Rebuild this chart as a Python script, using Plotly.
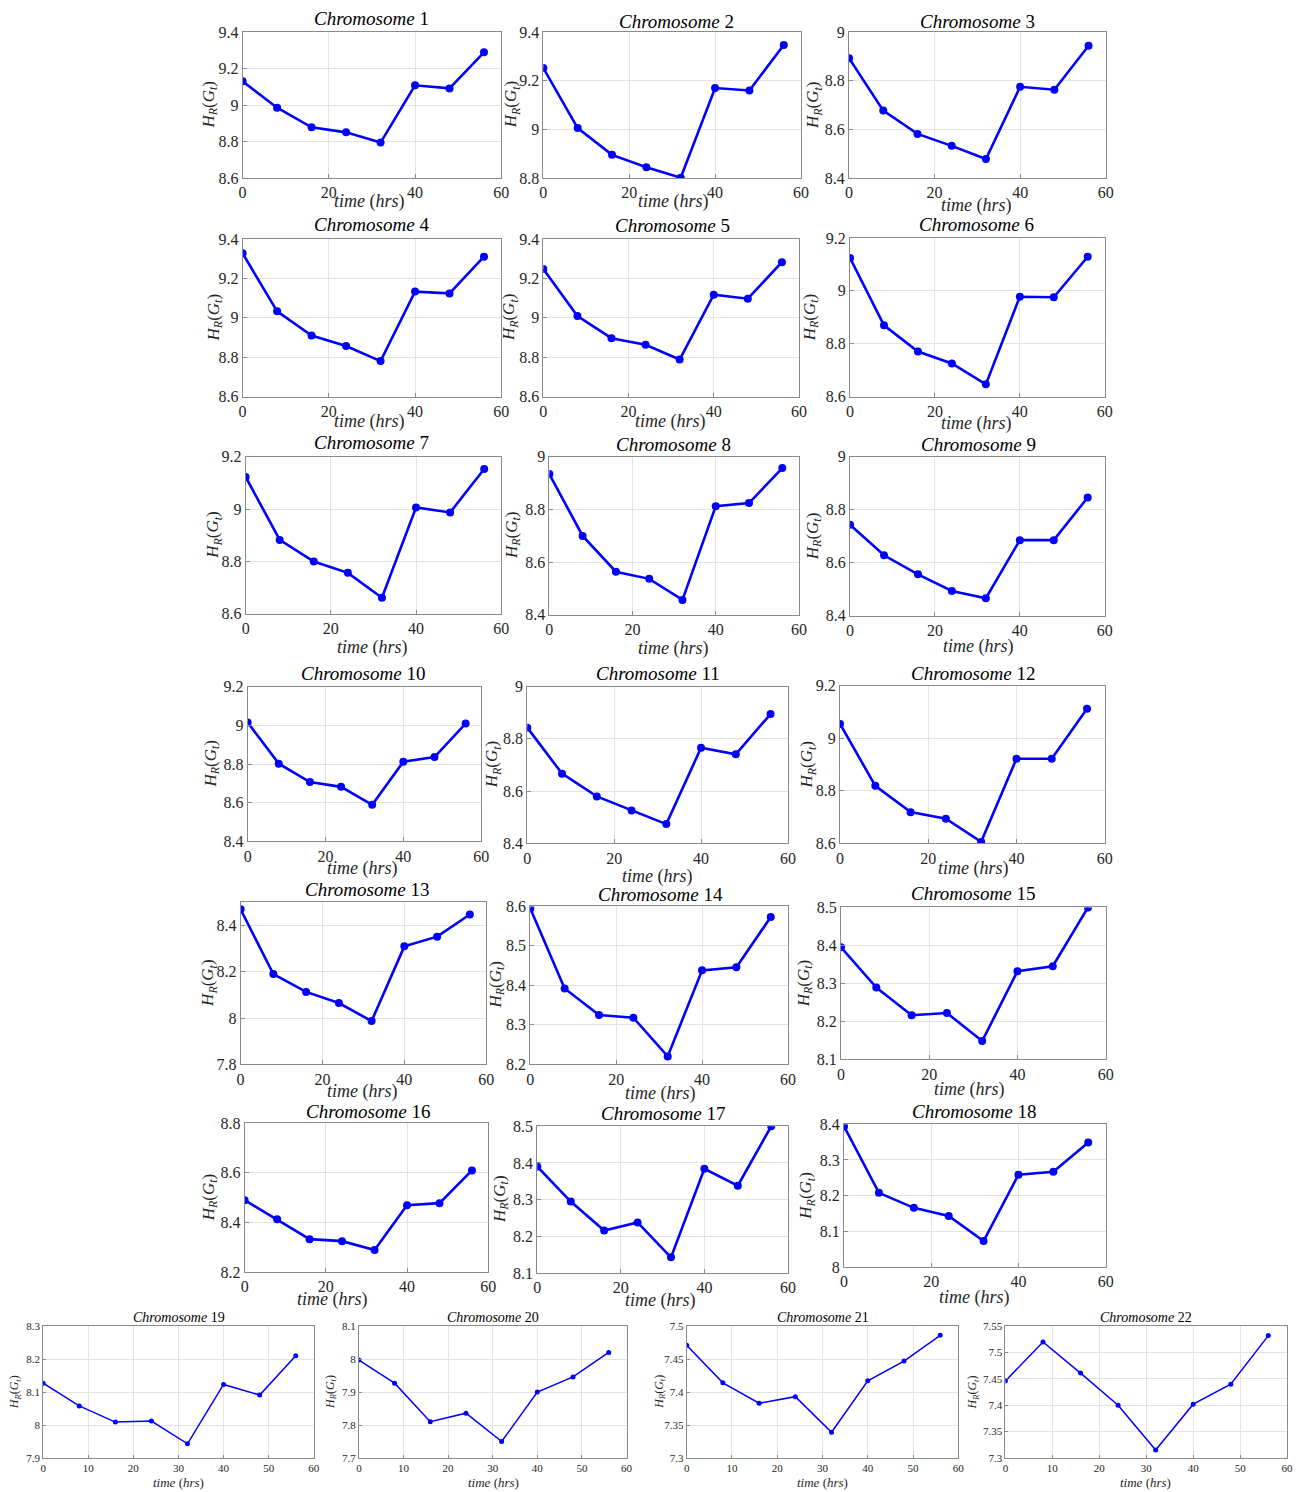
import plotly.graph_objects as go

# Figure size in CSS pixels and the mapping from layout pixels to figure pixels
W, H = 1311, 1500
SCALE_X, SCALE_Y = 0.9885, 0.9894
SHIFT_X, SHIFT_Y = 5, 8

# Sampling times (hours)
hours = [0, 8, 16, 24, 32, 40, 48, 56]

# Entropy H_R(G_t) per chromosome
chr1 = [9.130, 8.985, 8.878, 8.850, 8.794, 9.108, 9.091, 9.289]
chr2 = [9.252, 9.005, 8.895, 8.844, 8.801, 9.170, 9.160, 9.347]
chr3 = [8.892, 8.677, 8.581, 8.532, 8.478, 8.775, 8.763, 8.944]
chr4 = [9.327, 9.033, 8.910, 8.857, 8.781, 9.133, 9.124, 9.310]
chr5 = [9.248, 9.009, 8.897, 8.864, 8.789, 9.117, 9.097, 9.282]
chr6 = [9.124, 8.870, 8.771, 8.726, 8.647, 8.978, 8.976, 9.129]
chr7 = [9.123, 8.882, 8.799, 8.756, 8.661, 9.006, 8.987, 9.153]
chr8 = [8.934, 8.699, 8.563, 8.536, 8.456, 8.812, 8.824, 8.957]
chr9 = [8.743, 8.628, 8.556, 8.493, 8.466, 8.685, 8.685, 8.846]
chr10 = [9.015, 8.802, 8.707, 8.682, 8.589, 8.812, 8.836, 9.009]
chr11 = [8.843, 8.667, 8.580, 8.526, 8.474, 8.766, 8.741, 8.895]
chr12 = [9.054, 8.819, 8.719, 8.694, 8.606, 8.922, 8.922, 9.112]
chr13 = [8.470, 8.190, 8.113, 8.065, 7.987, 8.310, 8.352, 8.448]
chr14 = [8.595, 8.392, 8.325, 8.318, 8.220, 8.438, 8.446, 8.573]
chr15 = [8.395, 8.289, 8.216, 8.222, 8.148, 8.332, 8.345, 8.500]
chr16 = [8.490, 8.413, 8.333, 8.325, 8.289, 8.470, 8.478, 8.610]
chr17 = [8.390, 8.295, 8.216, 8.238, 8.143, 8.384, 8.338, 8.500]
chr18 = [8.394, 8.208, 8.166, 8.143, 8.073, 8.259, 8.267, 8.349]
chr19 = [8.127, 8.058, 8.009, 8.012, 7.943, 8.123, 8.091, 8.210]
chr20 = [7.997, 7.927, 7.810, 7.836, 7.750, 7.900, 7.946, 8.020]
chr21 = [7.471, 7.414, 7.383, 7.393, 7.339, 7.417, 7.447, 7.486]
chr22 = [7.446, 7.520, 7.461, 7.400, 7.315, 7.402, 7.440, 7.532]

series = [chr1, chr2, chr3, chr4, chr5, chr6, chr7, chr8, chr9, chr10, chr11,
          chr12, chr13, chr14, chr15, chr16, chr17, chr18, chr19, chr20,
          chr21, chr22]

# y-axis limits and tick values per chromosome
y_ranges = [
    [8.6, 9.4], [8.8, 9.4], [8.4, 9.0],
    [8.6, 9.4], [8.6, 9.4], [8.6, 9.2],
    [8.6, 9.2], [8.4, 9.0], [8.4, 9.0],
    [8.4, 9.2], [8.4, 9.0], [8.6, 9.2],
    [7.8, 8.5], [8.2, 8.6], [8.1, 8.5],
    [8.2, 8.8], [8.1, 8.5], [8.0, 8.4],
    [7.9, 8.3], [7.7, 8.1], [7.3, 7.5], [7.3, 7.55],
]
y_ticks = [
    [8.6, 8.8, 9, 9.2, 9.4], [8.8, 9, 9.2, 9.4], [8.4, 8.6, 8.8, 9],
    [8.6, 8.8, 9, 9.2, 9.4], [8.6, 8.8, 9, 9.2, 9.4], [8.6, 8.8, 9, 9.2],
    [8.6, 8.8, 9, 9.2], [8.4, 8.6, 8.8, 9], [8.4, 8.6, 8.8, 9],
    [8.4, 8.6, 8.8, 9, 9.2], [8.4, 8.6, 8.8, 9], [8.6, 8.8, 9, 9.2],
    [7.8, 8, 8.2, 8.4], [8.2, 8.3, 8.4, 8.5, 8.6], [8.1, 8.2, 8.3, 8.4, 8.5],
    [8.2, 8.4, 8.6, 8.8], [8.1, 8.2, 8.3, 8.4, 8.5], [8, 8.1, 8.2, 8.3, 8.4],
    [7.9, 8, 8.1, 8.2, 8.3], [7.7, 7.8, 7.9, 8, 8.1],
    [7.3, 7.35, 7.4, 7.45, 7.5], [7.3, 7.35, 7.4, 7.45, 7.5, 7.55],
]
x_ticks_big = [0, 20, 40, 60]
x_ticks_small = [0, 10, 20, 30, 40, 50, 60]

# Panel frames in layout pixels: (left, top, right, bottom)
boxes = [
    (243, 32, 501, 178), (543, 32, 800, 178), (848, 32, 1104, 178),
    (243, 239, 501, 397), (543, 239, 798, 397), (849, 238, 1103, 397),
    (246, 457, 501, 614), (549, 457, 798, 615), (849, 457, 1103, 616),
    (248, 687, 481, 842), (527, 687, 787, 844), (839, 686, 1103, 844),
    (241, 903, 486, 1065), (530, 907, 787, 1065), (840, 908, 1104, 1060),
    (245, 1124, 488, 1273), (537, 1127, 787, 1274), (843, 1125, 1104, 1268),
    (44, 1327, 314, 1459), (359, 1327, 626, 1459), (686, 1327, 957, 1459),
    (1004, 1327, 1285, 1459),
]
# Title centre (x, y), x-label centre (x, y), y-label centre x
title_pos = [
    (372, 18), (676, 21), (976, 21),
    (372, 225), (672, 226), (975, 225),
    (372, 443), (673, 445), (977, 445),
    (363, 674), (657, 674), (972, 674),
    (367, 890), (660, 895), (972, 894),
    (368, 1112), (662, 1114), (973, 1112),
    (180, 1318), (493, 1318), (822, 1318), (1144, 1318),
]
xlabel_pos = [
    (370, 202), (673, 202), (975, 206),
    (370, 422), (670, 422), (975, 424),
    (373, 648), (673, 649), (977, 647),
    (363, 869), (657, 877), (972, 869),
    (363, 1092), (660, 1094), (968, 1090),
    (333, 1300), (660, 1301), (973, 1298),
    (179, 1484), (493, 1484), (822, 1484), (1144, 1484),
]
ylabel_x = [
    210, 512, 813,
    215, 510, 810,
    215, 512, 813,
    212, 493, 807,
    210, 497, 804,
    210, 500, 806,
    16, 331, 659, 972,
]

SERIF = "Liberation Serif"
BLUE = "#0000ff"
FRAME = "#8a8a8a"
GRID = "#e3e3e3"


def px_x(v):
    return (v / SCALE_X - SHIFT_X) / W


def px_y(v):
    return 1 - (v / SCALE_Y - SHIFT_Y) / H


def fmt(v):
    return f"{v:g}"


fig = go.Figure()
annotations = []
layout_axes = {}

for i, vals in enumerate(series):
    n = i + 1
    small = n >= 19
    l, t, r, b = boxes[i]
    xname = "x" if n == 1 else f"x{n}"
    yname = "y" if n == 1 else f"y{n}"
    xkey = "xaxis" if n == 1 else f"xaxis{n}"
    ykey = "yaxis" if n == 1 else f"yaxis{n}"
    tick_size = 11 if small else 16
    title_size = 14 if small else 19
    label_size = 13 if small else 18
    ylabel_size = 12 if small else 17

    fig.add_trace(go.Scatter(
        x=hours, y=vals, mode="lines+markers",
        xaxis=xname, yaxis=yname, showlegend=False,
        line=dict(color=BLUE, width=1.5 if small else 2.6),
        marker=dict(color=BLUE, size=5 if small else 8),
        hoverinfo="x+y",
    ))

    xt = x_ticks_small if small else x_ticks_big
    axis_common = dict(
        showline=True, mirror=True, linecolor=FRAME, linewidth=1,
        showgrid=True, gridcolor=GRID, gridwidth=1, zeroline=False,
        ticks="inside", ticklen=3 if small else 4, tickcolor=FRAME,
        tickfont=dict(family=SERIF, size=tick_size, color="#262626"),
    )
    layout_axes[xkey] = dict(
        axis_common, domain=[px_x(l), px_x(r)], anchor=yname,
        range=[0, 60], tickvals=xt, ticktext=[fmt(v) for v in xt],
    )
    layout_axes[ykey] = dict(
        axis_common, domain=[px_y(b), px_y(t)], anchor=xname,
        range=y_ranges[i], tickvals=y_ticks[i],
        ticktext=[fmt(v) for v in y_ticks[i]],
    )

    tx, ty = title_pos[i]
    annotations.append(dict(
        x=px_x(tx), y=px_y(ty), xref="paper", yref="paper",
        xanchor="center", yanchor="middle", showarrow=False,
        text=f"<i>Chromosome</i> {n}",
        font=dict(family=SERIF, size=title_size, color="#000000"),
    ))
    lx, ly = xlabel_pos[i]
    annotations.append(dict(
        x=px_x(lx), y=px_y(ly), xref="paper", yref="paper",
        xanchor="center", yanchor="middle", showarrow=False,
        text="<i>time</i> (<i>hrs</i>)",
        font=dict(family=SERIF, size=label_size, color="#262626"),
    ))
    annotations.append(dict(
        x=px_x(ylabel_x[i]), y=px_y((t + b) / 2), xref="paper", yref="paper",
        xanchor="center", yanchor="middle", showarrow=False, textangle=-90,
        text="<i>H</i><sub><i>R</i></sub>(<i>G</i><sub><i>t</i></sub>)",
        font=dict(family=SERIF, size=ylabel_size, color="#262626"),
    ))

fig.update_layout(
    width=W, height=H,
    margin=dict(l=0, r=0, t=0, b=0),
    paper_bgcolor="white", plot_bgcolor="white",
    annotations=annotations,
    **layout_axes,
)

fig.write_html("out.html")
